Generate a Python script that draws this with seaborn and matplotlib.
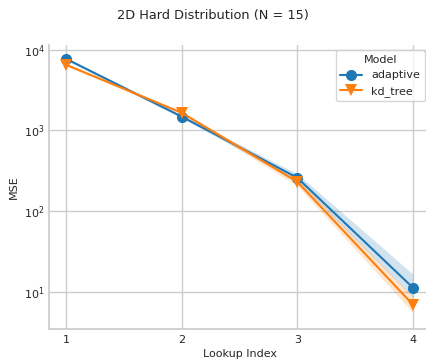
import matplotlib
matplotlib.use("Agg")
import matplotlib.pyplot as plt
import seaborn as sns
import pandas as pd

lookup_index = [1, 2, 3, 4]
models = ["adaptive", "kd_tree"]
adaptive_mse = [7700, 1480, 258, 11.2]
adaptive_lo = [7400, 1420, 235, 8.5]
adaptive_hi = [8000, 1540, 290, 16.5]
kd_tree_mse = [6500, 1650, 230, 6.9]
kd_tree_lo = [6250, 1590, 205, 5.5]
kd_tree_hi = [6750, 1710, 255, 8.7]

df = pd.DataFrame({
    "Lookup Index": lookup_index * 2,
    "MSE": adaptive_mse + kd_tree_mse,
    "Model": [models[0]] * 4 + [models[1]] * 4,
})

sns.set_theme(style="whitegrid")
plt.rcParams.update({
    "font.size": 8, "axes.labelsize": 8, "xtick.labelsize": 8, "ytick.labelsize": 8,
    "legend.fontsize": 8, "legend.title_fontsize": 8,
    "xtick.major.size": 0, "ytick.major.size": 0, "xtick.minor.size": 0, "ytick.minor.size": 0,
    "xtick.major.pad": 4, "ytick.major.pad": 3,
})
fig, ax = plt.subplots(figsize=(4.26, 3.62), dpi=100)
fig.subplots_adjust(left=0.115, right=1.01, top=0.876, bottom=0.09)

palette = ["#1f77b4", "#ff7f0e"]
sns.lineplot(data=df, x="Lookup Index", y="MSE", hue="Model", style="Model",
             markers=["o", "v"], dashes=False, markersize=8, markeredgewidth=0,
             palette=palette, errorbar=None, ax=ax)
for lo, hi, c in [(adaptive_lo, adaptive_hi, palette[0]), (kd_tree_lo, kd_tree_hi, palette[1])]:
    ax.fill_between(lookup_index, lo, hi, color=c, alpha=0.2, linewidth=0)

ax.set_yscale("log")
ax.set_ylim(3.4, 11500)
ax.set_xticks(lookup_index)
ax.set_xlabel("Lookup Index", labelpad=3)
ax.set_ylabel("MSE", labelpad=4)
sns.despine(ax=ax)
for s in ["left", "bottom"]:
    ax.spines[s].set_color("#cccccc")
ax.legend(title="Model", loc="upper right")
fig.suptitle("2D Hard Distribution (N = 15)", fontsize=9.3, y=0.975)
fig.savefig("out.png", dpi=100)
